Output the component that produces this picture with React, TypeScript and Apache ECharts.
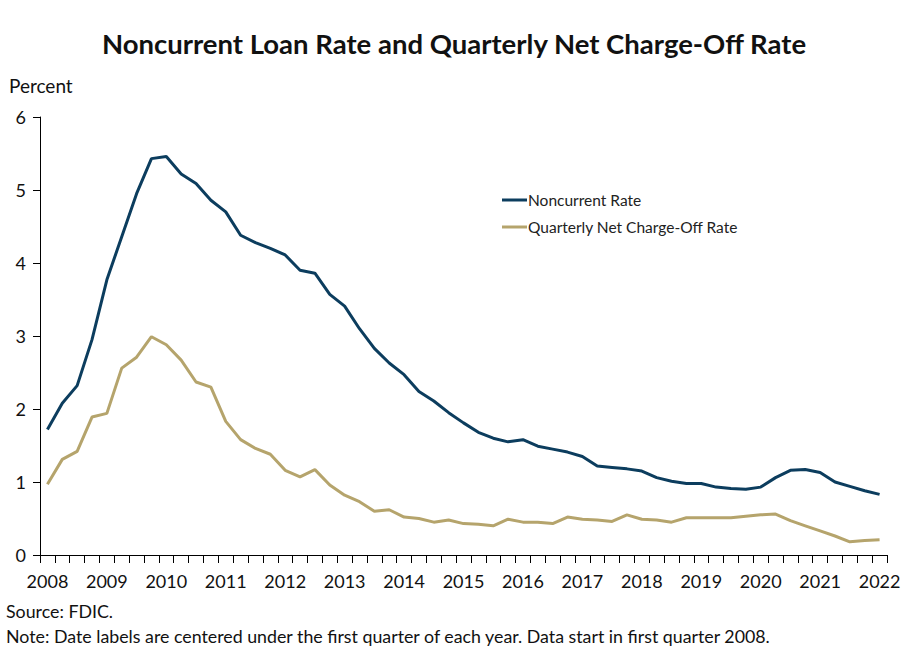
import React, { useEffect, useRef } from "react";
import * as echarts from "echarts";

const years = [2008, 2009, 2010, 2011, 2012, 2013, 2014, 2015, 2016, 2017, 2018, 2019, 2020, 2021, 2022];
const quarters = ["Q1", "Q2", "Q3", "Q4"];

const noncurrentRate = [
  1.72, 2.08, 2.32, 2.95, 3.77, 4.36, 4.95, 5.43, 5.46, 5.22, 5.09, 4.86, 4.70, 4.38, 4.28, 4.20,
  4.11, 3.90, 3.86, 3.57, 3.41, 3.10, 2.83, 2.63, 2.47, 2.24, 2.11, 1.95, 1.81, 1.68, 1.60, 1.55,
  1.58, 1.49, 1.45, 1.41, 1.35, 1.22, 1.20, 1.18, 1.15, 1.06, 1.01, 0.98, 0.98, 0.93, 0.91, 0.90,
  0.93, 1.06, 1.16, 1.17, 1.13, 1.00, 0.94, 0.88, 0.83,
];

const chargeOffRate = [
  0.97, 1.31, 1.42, 1.89, 1.94, 2.56, 2.71, 2.99, 2.88, 2.67, 2.37, 2.30, 1.83, 1.58, 1.46, 1.38,
  1.16, 1.07, 1.17, 0.96, 0.82, 0.73, 0.60, 0.62, 0.52, 0.50, 0.45, 0.48, 0.43, 0.42, 0.40, 0.49,
  0.45, 0.45, 0.43, 0.52, 0.49, 0.48, 0.46, 0.55, 0.49, 0.48, 0.45, 0.51, 0.51, 0.51, 0.51, 0.53,
  0.55, 0.56, 0.47, 0.40, 0.33, 0.26, 0.18, 0.20, 0.21,
];

const categories: string[] = [];
years.forEach((y) => quarters.forEach((q) => categories.push(`${y} ${q}`)));
const quarterCats = categories.slice(0, noncurrentRate.length);

const FONT = "Lato, 'Open Sans', sans-serif";

export default function App() {
  const ref = useRef<HTMLDivElement>(null);
  useEffect(() => {
    if (!ref.current) return;
    const chart = echarts.init(ref.current, null, { renderer: "svg" });
    chart.setOption({
      animation: false,
      backgroundColor: "#ffffff",
      textStyle: { fontFamily: FONT },
      title: {
        text: "Noncurrent Loan Rate and Quarterly Net Charge-Off Rate",
        left: "center",
        top: 24,
        textStyle: { fontFamily: FONT, fontSize: 27.5, fontWeight: "bold", color: "#111" },
      },
      legend: {
        orient: "vertical",
        left: 497,
        top: 187,
        itemWidth: 25,
        itemHeight: 3,
        itemGap: 11,
        icon: "rect",
        textStyle: { fontFamily: FONT, fontSize: 15.5, color: "#222", padding: [0, 0, 0, -4] },
        data: ["Noncurrent Rate", "Quarterly Net Charge-Off Rate"],
      },
      grid: { left: 40, right: 21, top: 117, bottom: 104, containLabel: false },
      xAxis: {
        type: "category",
        data: quarterCats,
        boundaryGap: true,
        axisLine: { show: true, lineStyle: { color: "#000", width: 1 } },
        axisTick: { show: true, interval: 0, length: 8, lineStyle: { color: "#000" } },
        axisLabel: {
          interval: 3,
          margin: 17,
          fontFamily: FONT,
          fontSize: 18,
          color: "#111",
          formatter: (v: string) => v.split(" ")[0],
        },
        splitLine: { show: false },
      },
      yAxis: {
        type: "value",
        min: 0,
        max: 6,
        interval: 1,
        name: "Percent",
        nameLocation: "end",
        nameGap: 22,
        nameTextStyle: { fontFamily: FONT, fontSize: 19, color: "#111", align: "left", padding: [0, 0, 0, -31] },
        axisLine: { show: true, lineStyle: { color: "#000", width: 1 } },
        axisTick: { show: true, length: 7, lineStyle: { color: "#000" } },
        axisLabel: { fontFamily: FONT, fontSize: 18, color: "#111", margin: 14 },
        splitLine: { show: false },
      },
      series: [
        {
          name: "Noncurrent Rate",
          type: "line",
          data: noncurrentRate,
          symbol: "none",
          lineStyle: { color: "#0c3d5e", width: 3 },
          itemStyle: { color: "#0c3d5e" },
        },
        {
          name: "Quarterly Net Charge-Off Rate",
          type: "line",
          data: chargeOffRate,
          symbol: "none",
          lineStyle: { color: "#b5a46c", width: 3 },
          itemStyle: { color: "#b5a46c" },
        },
      ],
      graphic: [
        {
          type: "text",
          left: 6,
          top: 602,
          style: { text: "Source: FDIC.", fontFamily: FONT, fontSize: 17.8, fill: "#111" },
        },
        {
          type: "text",
          left: 6,
          top: 627,
          style: {
            text: "Note: Date labels are centered under the first quarter of each year. Data start in first quarter 2008.",
            fontFamily: FONT,
            fontSize: 17.8,
            fill: "#111",
          },
        },
      ],
    });
    return () => chart.dispose();
  }, []);
  return (
    <div
      ref={ref}
      style={{ position: "absolute", left: 0, top: 0, width: 908, height: 659 }}
    />
  );
}
